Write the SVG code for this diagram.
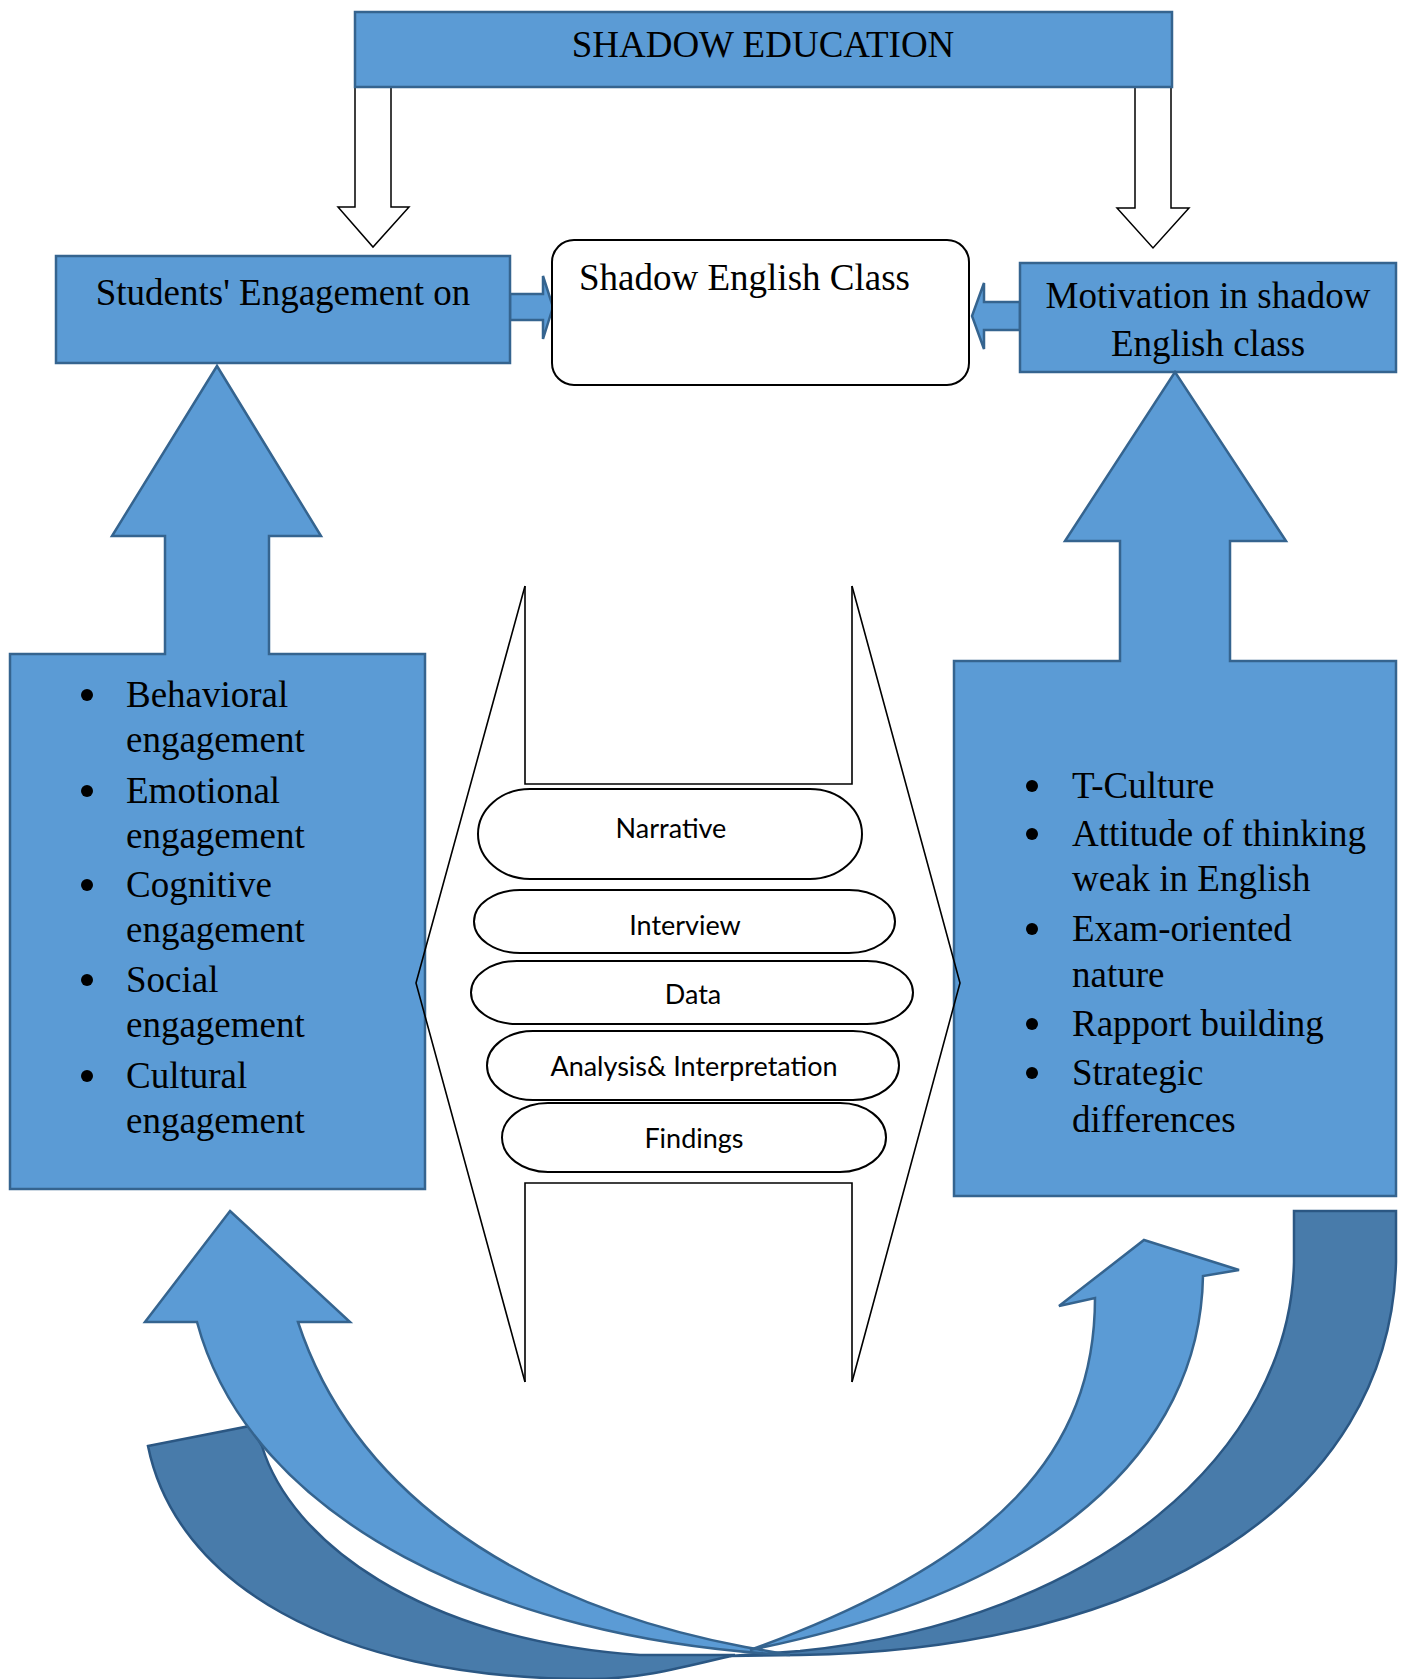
<svg xmlns="http://www.w3.org/2000/svg" width="1407" height="1679" viewBox="0 0 1407 1679">
<style>
.blue{fill:#5B9BD5;stroke:#35648F;stroke-width:2.5;stroke-linejoin:miter}
.dark{fill:#487BAA;stroke:#2B5783;stroke-width:2.5}
.wa{fill:#FFFFFF;stroke:#000000;stroke-width:1.5}
.ln{fill:none;stroke:#000000;stroke-width:1.6}
.pill{fill:#FFFFFF;stroke:#000000;stroke-width:2}
.t{font-family:"Liberation Serif","Times New Roman",serif;font-size:37px;fill:#000000}
.s{font-family:Lato,"Liberation Sans",sans-serif;font-size:27px;fill:#000000;text-anchor:middle}
.c{text-anchor:middle}
</style>
<rect width="1407" height="1679" fill="#FFFFFF"/>
<g id="connectors">
<path class="wa" d="M355,87 L391,87 L391,207 L409,207 L373,247 L338,207 L355,207 Z"/>
<path class="wa" d="M1135,87 L1171,87 L1171,208 L1189,208 L1153,248 L1117,208 L1135,208 Z"/>
<path class="blue" d="M510,294 L543,294 L543,276 L553,307 L543,339 L543,320 L510,320 Z"/>
<path class="blue" d="M1020,302 L984,302 L984,283 L972,316 L984,349 L984,330 L1020,330 Z"/>
<path class="dark" d="M148,1446 L250,1426 L262,1446 C290,1540 420,1640 640,1655 L735,1655 C680,1668 640,1679 590,1679 C330,1679 175,1580 148,1446 Z"/>
<path class="dark" d="M1294,1211 L1396,1211 L1396,1262 C1390,1500 1150,1650 800,1655 L730,1656 L800,1651 C1100,1620 1290,1450 1294,1262 Z"/>
<path class="blue" d="M230,1211 L350,1322 L298,1322 C350,1480 500,1600 745,1647 L790,1655 C500,1640 250,1520 197,1322 L145,1322 Z"/>
<path class="blue" d="M1144,1240 L1239,1270 L1203,1276 C1200,1450 1050,1590 750,1650 C1000,1560 1095,1450 1095,1298 L1059,1306 Z"/>
</g>
<g id="shadow-education">
<rect class="blue" x="355" y="12" width="817" height="75"/>
<text class="t c" x="763" y="57">SHADOW EDUCATION</text>
</g>
<g id="students-engagement">
<rect class="blue" x="56" y="256" width="454" height="107"/>
<text class="t c" x="283" y="305">Students' Engagement on</text>
</g>
<g id="shadow-english-class">
<rect x="552" y="240" width="417" height="145" rx="22" ry="22" fill="#FFFFFF" stroke="#000000" stroke-width="2"/>
<text class="t" x="579" y="290">Shadow English Class</text>
</g>
<g id="motivation">
<rect class="blue" x="1020" y="263" width="376" height="109"/>
<text class="t c" x="1208" y="308">Motivation in shadow</text>
<text class="t c" x="1208" y="356">English class</text>
</g>
<g id="engagement-list">
<path class="blue" d="M10,654 L165,654 L165,536 L112,536 L217,366 L321,536 L269,536 L269,654 L425,654 L425,1189 L10,1189 Z"/>
<g fill="#000000">
<circle cx="87" cy="695" r="6"/><circle cx="87" cy="791" r="6"/><circle cx="87" cy="885" r="6"/><circle cx="87" cy="980" r="6"/><circle cx="87" cy="1076" r="6"/>
</g>
<text class="t" x="126" y="707">Behavioral</text>
<text class="t" x="126" y="752">engagement</text>
<text class="t" x="126" y="803">Emotional</text>
<text class="t" x="126" y="848">engagement</text>
<text class="t" x="126" y="897">Cognitive</text>
<text class="t" x="126" y="942">engagement</text>
<text class="t" x="126" y="992">Social</text>
<text class="t" x="126" y="1037">engagement</text>
<text class="t" x="126" y="1088">Cultural</text>
<text class="t" x="126" y="1133">engagement</text>
</g>
<g id="motivation-list">
<path class="blue" d="M954,661 L1120,661 L1120,541 L1065,541 L1175,372 L1286,541 L1230,541 L1230,661 L1396,661 L1396,1196 L954,1196 Z"/>
<g fill="#000000">
<circle cx="1032" cy="786" r="6"/><circle cx="1032" cy="834" r="6"/><circle cx="1032" cy="929" r="6"/><circle cx="1032" cy="1024" r="6"/><circle cx="1032" cy="1073" r="6"/>
</g>
<text class="t" x="1072" y="798">T-Culture</text>
<text class="t" x="1072" y="846">Attitude of thinking</text>
<text class="t" x="1072" y="891">weak in English</text>
<text class="t" x="1072" y="941">Exam-oriented</text>
<text class="t" x="1072" y="987">nature</text>
<text class="t" x="1072" y="1036">Rapport building</text>
<text class="t" x="1072" y="1085">Strategic</text>
<text class="t" x="1072" y="1132">differences</text>
</g>
<g id="method-frame">
<path class="ln" d="M525,586 L416,983 L525,1382"/>
<path class="ln" d="M852,586 L960,983 L852,1382"/>
<path class="ln" d="M525,586 V784 H852 V586"/>
<path class="ln" d="M525,1382 V1183 H852 V1382"/>
</g>
<g id="narrative">
<rect class="pill" x="478" y="789" width="384" height="90" rx="52" ry="45"/>
<text class="s" x="671" y="838">Narrative</text>
</g>
<g id="interview">
<rect class="pill" x="474" y="890" width="421" height="63" rx="46" ry="31.5"/>
<text class="s" x="685" y="935">Interview</text>
</g>
<g id="data">
<rect class="pill" x="471" y="961" width="442" height="63" rx="46" ry="31.5"/>
<text class="s" x="693" y="1004">Data</text>
</g>
<g id="analysis">
<rect class="pill" x="487" y="1031" width="412" height="69" rx="46" ry="34.5"/>
<text class="s" x="694" y="1076">Analysis&amp; Interpretation</text>
</g>
<g id="findings">
<rect class="pill" x="502" y="1103" width="384" height="69" rx="46" ry="34.5"/>
<text class="s" x="694" y="1148">Findings</text>
</g>
</svg>
